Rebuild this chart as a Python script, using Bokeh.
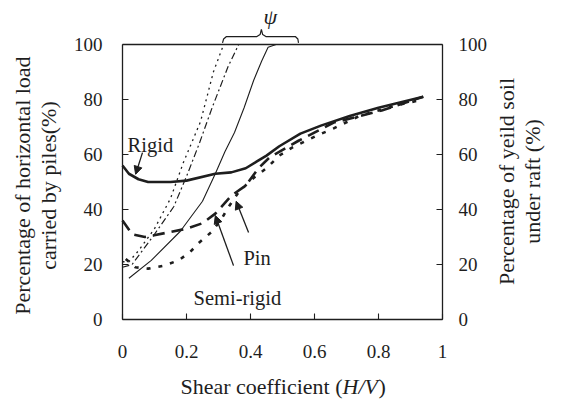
import math
from bokeh.plotting import figure
from bokeh.models import (Range1d, LinearAxis, FixedTicker, Label, Arrow,
                          NormalHead, NumeralTickFormatter)
from bokeh.embed import file_html
from bokeh.resources import INLINE

# ---- data ----
# Percentage of horizontal load carried by piles (left axis)
rigid_x = [0, 0.02, 0.05, 0.08, 0.15, 0.2, 0.29, 0.34, 0.385, 0.42, 0.45, 0.49,
           0.556, 0.62, 0.71, 0.80, 0.87, 0.94]
rigid_y = [56, 53, 51, 50, 50, 50.5, 53, 53.5, 55, 57.5, 59.6, 63,
           67.6, 70.5, 74, 77, 79, 81]
semi_x = [0, 0.03, 0.07, 0.14, 0.2, 0.25, 0.29, 0.34, 0.385, 0.425, 0.46, 0.55,
          0.66, 0.81, 0.94]
semi_y = [36, 31, 30, 31.6, 33, 35, 38.5, 45, 48.7, 55, 59, 65, 71.6, 76, 81]
pin_x = [0.01, 0.04, 0.08, 0.13, 0.175, 0.21, 0.24, 0.28, 0.31, 0.33, 0.36, 0.39,
         0.415, 0.45, 0.49, 0.53, 0.61, 0.66, 0.74, 0.86, 0.94]
pin_y = [22, 19, 18.5, 19.6, 21.5, 24.4, 28, 32, 36.7, 40.7, 45.8, 49.4,
         52, 55, 59.6, 62.5, 67, 69.5, 74, 78, 80]
# Percentage of yield soil under raft (right axis, psi curves)
psi_pin_x = [0, 0.02, 0.05, 0.1, 0.15, 0.19, 0.244, 0.284, 0.316]
psi_pin_y = [21, 21, 25, 33, 44, 57, 72, 90, 100]
psi_semi_x = [0, 0.03, 0.1, 0.16, 0.2, 0.24, 0.28, 0.33, 0.363]
psi_semi_y = [19, 20, 31, 41, 52, 64, 77, 92, 100]
psi_rigid_x = [0.02, 0.09, 0.18, 0.25, 0.29, 0.32, 0.35, 0.38, 0.41, 0.435, 0.455, 0.48]
psi_rigid_y = [15, 21.5, 32, 43, 53, 61, 68, 77, 87, 94, 99, 100]

x_ticks = [0, 0.2, 0.4, 0.6, 0.8, 1]
y_ticks = [0, 20, 40, 60, 80, 100]

FONT = "Liberation Serif"
INK = "#1e1e1e"

# frame covers the whole canvas; axes are pinned at x=0, x=1, y=0, y=100
p = figure(width=553, height=400,
           x_range=Range1d(-0.38125, 1.346875), y_range=Range1d(-29.4545, 116),
           x_axis_type=None, y_axis_type=None,
           output_backend="svg", toolbar_location=None,
           min_border_left=0, min_border_right=0, min_border_top=0,
           min_border_bottom=0)
p.outline_line_color = None
p.background_fill_color = "white"
p.border_fill_color = "white"


def style_axis(ax, standoff):
    ax.axis_line_color = INK
    ax.axis_line_width = 1.3
    ax.major_tick_line_color = INK
    ax.major_tick_line_width = 1.1
    ax.major_tick_in = 6
    ax.major_tick_out = 0
    ax.minor_tick_line_color = None
    ax.major_label_text_font = FONT
    ax.major_label_text_font_size = "19px"
    ax.major_label_text_color = INK
    ax.major_label_standoff = standoff


xa = LinearAxis(fixed_location=0, bounds=(0, 1), ticker=FixedTicker(ticks=x_ticks),
                formatter=NumeralTickFormatter(format="0.[0]"))
style_axis(xa, 25)
p.add_layout(xa, "below")

ya = LinearAxis(fixed_location=0, bounds=(0, 100), ticker=FixedTicker(ticks=y_ticks))
style_axis(ya, 20)
p.add_layout(ya, "left")

ra = LinearAxis(fixed_location=1, bounds=(0, 100), ticker=FixedTicker(ticks=y_ticks))
style_axis(ra, 16)
p.add_layout(ra, "right")

ta = LinearAxis(fixed_location=100, bounds=(0, 1), ticker=FixedTicker(ticks=[]))
style_axis(ta, 0)
ta.major_label_text_font_size = "0px"
p.add_layout(ta, "above")

# curves
p.line(psi_pin_x, psi_pin_y, line_color=INK, line_width=1.3, line_dash="2 4")
p.line(psi_semi_x, psi_semi_y, line_color=INK, line_width=1.2, line_dash="7 3 2 3")
p.line(psi_rigid_x, psi_rigid_y, line_color=INK, line_width=1.1)
p.line(pin_x, pin_y, line_color=INK, line_width=2.6, line_dash="4 8")
p.line(semi_x, semi_y, line_color=INK, line_width=2.6, line_dash="12 7")
p.line(rigid_x, rigid_y, line_color=INK, line_width=2.6)

# brace and psi
brace_x = [0.3125, 0.316, 0.325, 0.42, 0.43, 0.434, 0.438, 0.448, 0.54, 0.548, 0.55]
brace_y = [100.6, 102.0, 102.9, 102.9, 103.6, 105.5, 103.6, 102.9, 102.9, 102.0, 100.6]
p.line(brace_x, brace_y, line_color=INK, line_width=1.2)
p.add_layout(Label(x=0.462, y=110.2, text="ψ", text_font=FONT, text_font_style="italic",
                   text_font_size="22px", text_color=INK, text_align="center",
                   text_baseline="middle"))


# annotations
def ann(x, y, t):
    p.add_layout(Label(x=x, y=y, text=t, text_font=FONT, text_font_size="20.5px",
                       text_color=INK, text_baseline="alphabetic"))


ann(0.016, 63.6, "Rigid")
ann(0.378, 22.5, "Pin")
ann(0.222, 8.0, "Semi-rigid")


def arrow(x0, y0, x1, y1):
    p.add_layout(Arrow(end=NormalHead(size=8, fill_color=INK, line_color=INK, line_width=1),
                       x_start=x0, y_start=y0, x_end=x1, y_end=y1,
                       line_color=INK, line_width=1.3))


arrow(0.0625, 60.7, 0.041, 52.8)
arrow(0.394, 31.6, 0.355, 43.0)
arrow(0.347, 19.6, 0.29, 37.8)


# axis titles
def title(x, y, t, angle=0.0, style="normal", align="center"):
    p.add_layout(Label(x=x, y=y, text=t, text_font=FONT, text_font_size="22px",
                       text_font_style=style, text_color=INK, text_align=align,
                       text_baseline="middle", angle=angle))


title(-0.3125, 48.7, "Percentage of horizontal load", math.pi / 2)
title(-0.23, 48.7, "carried by piles(%)", math.pi / 2)
title(1.2, 50.2, "Percentage of yeild soil", math.pi / 2)
title(1.28, 50.2, "under raft (%)", math.pi / 2)
title(0.6875, -24.4, "Shear coefficient (", align="right")
title(0.6875, -24.4, "H/V", style="italic", align="left")
title(0.800, -24.4, ")", align="left")

open("out.html", "w").write(file_html(p, INLINE))
